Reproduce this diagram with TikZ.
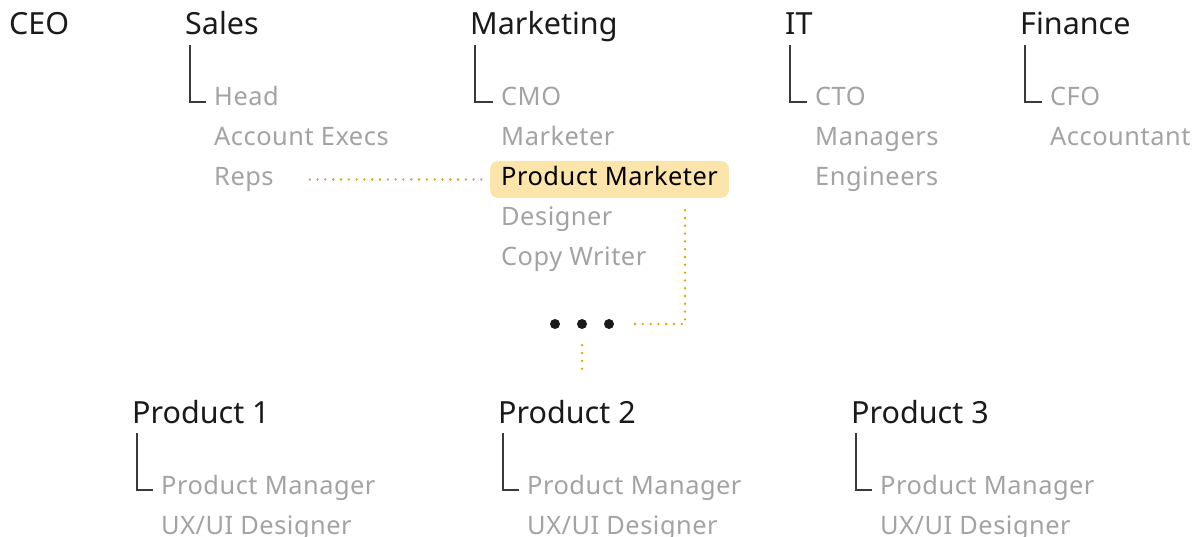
\documentclass[tikz,border=0pt]{standalone}
\usepackage{fontspec}
\setmainfont{Noto Sans}
\usetikzlibrary{positioning}
\definecolor{ink}{HTML}{1A1A1A}
\definecolor{mute}{HTML}{A3A3A3}
\definecolor{tick}{HTML}{3A3A3A}
\definecolor{hilite}{HTML}{FCE5AA}
\definecolor{gold}{HTML}{DFA000}
\newfontfamily\rolefont[LetterSpace=2]{Noto Sans}

\begin{document}
\begin{tikzpicture}[x=1pt, y=-1pt,
dept/.style = {anchor=base west, inner sep=0pt, text=ink,
               font=\fontsize{30.5}{36}\selectfont},
role/.style = {anchor=base west, inner sep=0pt, text=mute,
               text height=18pt, text depth=5pt,
               font=\rolefont\fontsize{25.4}{30}\selectfont},
pick/.style = {role, text=black, fill=hilite, rounded corners=8pt,
               inner xsep=11pt, inner ysep=7pt},
tree/.style = {tick, line width=1.1pt},
link/.style = {gold, line width=2.6pt, line cap=round,
               dash pattern=on 0pt off 7.8pt},
dot/.style = {circle, inner sep=0pt, minimum size=10pt, fill=ink,
              node contents={}}
                        ]
\useasboundingbox (0,0) rectangle (1202,537);
% departments
\node (ceo) [dept] at (9,35) {CEO};
\node (sales) [dept] at (185,35) {Sales};
\node (mkt) [dept] at (470,35) {Marketing};
\node (it) [dept] at (785,35) {IT};
\node (fin) [dept] at (1020,35) {Finance};
% roles
\foreach \t [count=\i] in {Head, Account Execs, Reps}
  \node (sales\i) [role] at (214,66+40*\i) {\t};
\foreach \t/\i in {CMO/1, Marketer/2, Designer/4, Copy Writer/5}
  \node (mkt\i) [role] at (501,66+40*\i) {\t};
\node (pm) [pick] at (490,186) {Product Marketer};
\foreach \t [count=\i] in {CTO, Managers, Engineers}
  \node (it\i) [role] at (815,66+40*\i) {\t};
\foreach \t [count=\i] in {CFO, Accountant}
  \node (fin\i) [role] at (1050,66+40*\i) {\t};
% products
\foreach \n/\x in {1/132, 2/498, 3/851}{
  \node (prod\n) [dept] at (\x,423) {Product \n};
  \node (mgr\n) [role] at (\x+29,494) {Product Manager};
  \node (ux\n) [role] at (\x+29,534) {UX/UI Designer};
}
\foreach \h/\r in {sales/sales1, mkt/mkt1, it/it1, fin/fin1,
                   prod1/mgr1, prod2/mgr2, prod3/mgr3}
  \draw[tree] ([xshift=5pt,yshift=-10pt]\h.base west)
    |- ([xshift=-8pt,yshift=4pt]\r.base west);
% dots and links
\foreach \x [count=\i] in {555,582,609}
  \node (d\i) at (\x,324) [dot];
\draw[link] ([xshift=36pt]sales3.east) -- ([xshift=-6pt]pm.west);
\draw[link] ([xshift=76pt,yshift=-12pt]d3.north |- pm.south) |- ([xshift=19pt]d3.east);
\draw[link] ([yshift=-16pt]d2.south) -- ([yshift=-47pt]d2.south);
\end{tikzpicture}
\end{document}
